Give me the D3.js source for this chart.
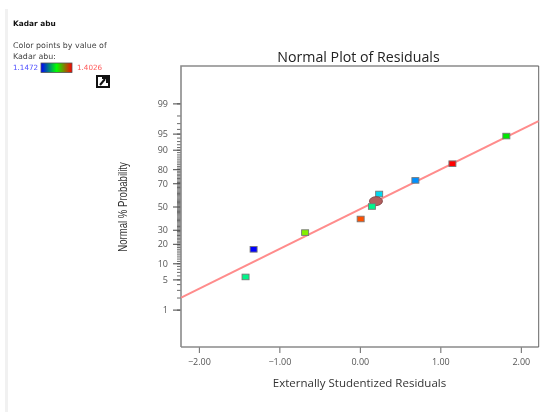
<!DOCTYPE html>
<html>
<head>
<meta charset="utf-8">
<script src="https://cdn.jsdelivr.net/npm/d3@7"></script>
<style>
  html, body { margin: 0; padding: 0; background: #fff; }
  svg { display: block; filter: blur(0.35px); }
  text { font-family: "Open Sans", sans-serif; }
  .axis path { display: none; }
  .axis text { font-size: 9px; fill: #555; font-family: "Open Sans", sans-serif; }
  .side text, text.side { font-family: "DejaVu Sans", sans-serif; font-size: 7.9px; fill: #444; }
</style>
</head>
<body>
<svg id="chart" width="550" height="412"></svg>
<script>
// residuals, normal % probability and Kadar abu of each run
const residuals = [-1.42, -1.32, -0.68, 0.01, 0.15, 0.24, 0.69, 1.15, 1.82];
const probabilities = [5.6, 16.7, 27.8, 38.9, 50, 61.1, 72.2, 83.3, 94.4];
const kadarAbu = [1.24, 1.1472, 1.305, 1.38, 1.24, 1.2, 1.19, 1.4026, 1.275];

const lineX = [-2.22, 2.22];
const lineP = [2, 97.3];
const selectedX = 0.2;
const selectedP = 54.8;

const xTicks = [-2, -1, 0, 1, 2];
const yLabelled = [1, 5, 10, 20, 30, 50, 70, 80, 90, 95, 99];
const yMinor = d3.range(1, 100);

const legendMin = 1.1472;
const legendMax = 1.4026;

// inverse normal cdf (Acklam)
function probit(pct) {
    const p = pct / 100;
    const a = [-39.69683028665376, 220.9460984245205, -275.9285104469687, 138.357751867269, -30.66479806614716, 2.506628277459239];
    const b = [-54.47609879822406, 161.5858368580409, -155.6989798598866, 66.80131188771972, -13.28068155288572];
    const c = [-0.007784894002430293, -0.3223964580411365, -2.400758277161838, -2.549732539343734, 4.374664141464968, 2.938163982698783];
    const d = [0.007784695709041462, 0.3224671290700398, 2.445134137142996, 3.754408661907416];
    if (p < 0.02425 || p > 0.97575) {
        const q = Math.sqrt(-2 * Math.log(p < 0.5 ? p : 1 - p));
        const v = (((((c[0]*q+c[1])*q+c[2])*q+c[3])*q+c[4])*q+c[5]) / ((((d[0]*q+d[1])*q+d[2])*q+d[3])*q+1);
        return p < 0.5 ? v : -v;
    }
    const q = p - 0.5, r = q * q;
    return (((((a[0]*r+a[1])*r+a[2])*r+a[3])*r+a[4])*r+a[5])*q / (((((b[0]*r+b[1])*r+b[2])*r+b[3])*r+b[4])*r+1);
}

const svg = d3.select("#chart");
const plot = {left: 181, right: 538.7, top: 66, bottom: 347};

const x = d3.scaleLinear().domain([-2.222, 2.222]).range([plot.left, plot.right]);
const yz = d3.scaleLinear().domain([-3.17, 3.17]).range([plot.bottom, plot.top]);
const y = p => yz(probit(p));

const color = d3.scaleLinear()
    .domain([1.1472, 1.19, 1.2, 1.24, 1.275, 1.305, 1.38, 1.4026])
    .range(["#0000ff", "#0090ff", "#00d8f0", "#00f58a", "#00e800", "#84f000", "#ff5000", "#ff0000"]);

// left page stripe
svg.append("rect").attr("x", 5).attr("y", 9).attr("width", 3).attr("height", 403).attr("fill", "#f1f1f1");

// side panel
svg.append("text").attr("class", "side").attr("x", 13).attr("y", 26)
    .style("font-size", "7.4px").style("font-weight", "700").style("fill", "#111").text("Kadar abu");
svg.append("text").attr("class", "side").attr("x", 13).attr("y", 48).text("Color points by value of");
svg.append("text").attr("class", "side").attr("x", 13).attr("y", 58.5).text("Kadar abu:");
svg.append("text").attr("class", "side").attr("x", 13).attr("y", 70)
    .style("font-size", "7.2px").style("fill", "#5050ff").text(legendMin);
svg.append("text").attr("class", "side").attr("x", 77).attr("y", 70)
    .style("font-size", "7.2px").style("fill", "#ff5a5a").text(legendMax);

const grad = svg.append("defs").append("linearGradient").attr("id", "legend-grad");
["#0000ff", "#007f80", "#00ff00", "#7f8000", "#ff0000"].forEach((c, i) => {
    grad.append("stop").attr("offset", i * 25 + "%").attr("stop-color", c);
});
svg.append("rect").attr("x", 41).attr("y", 63).attr("width", 31).attr("height", 9.5)
    .attr("fill", "url(#legend-grad)").attr("stroke", "#555").attr("stroke-width", 0.8);

// export icon
const icon = svg.append("g").attr("transform", "translate(96,75)");
icon.append("rect").attr("x", 1).attr("y", 1).attr("width", 12).attr("height", 11)
    .attr("fill", "#fff").attr("stroke", "#111").attr("stroke-width", 2);
icon.append("path").attr("d", "M4 10 L9 4 M6 3 H11 V8").attr("fill", "none").attr("stroke", "#111").attr("stroke-width", 2);

// axes
svg.append("g").attr("class", "axis")
    .attr("transform", "translate(0," + plot.bottom + ")")
    .call(d3.axisBottom(x).tickValues(xTicks).tickFormat(d3.format(".2f")).tickSize(6).tickPadding(6))
    .call(g => g.selectAll("line").attr("stroke", "#666"));

svg.append("g").attr("class", "axis")
    .attr("transform", "translate(" + plot.left + ",0)")
    .call(d3.axisLeft(yz).tickValues(yMinor.map(probit)).tickSize(4).tickFormat(""))
    .call(g => g.selectAll("line").attr("stroke", "#444").attr("stroke-width", 0.8));

svg.append("g").attr("class", "axis")
    .attr("transform", "translate(" + plot.left + ",0)")
    .call(d3.axisLeft(yz).tickValues(yLabelled.map(probit)).tickSize(8).tickPadding(5)
        .tickFormat((d, i) => yLabelled[i]))
    .call(g => g.selectAll("line").attr("stroke", "#444"));

// frame
svg.append("path")
    .attr("d", `M${plot.left} ${plot.bottom} V${plot.top} H${plot.right}`)
    .attr("fill", "none").attr("stroke", "#8a8a8a").attr("stroke-width", 1.6);
svg.append("line").attr("x1", plot.left).attr("x2", plot.right).attr("y1", plot.bottom).attr("y2", plot.bottom)
    .attr("stroke", "#8a8a8a").attr("stroke-width", 1.4);
svg.append("line").attr("x1", plot.right).attr("x2", plot.right).attr("y1", plot.top).attr("y2", plot.bottom)
    .attr("stroke", "#666").attr("stroke-width", 1);

// fit line
svg.append("path")
    .datum(d3.zip(lineX, lineP))
    .attr("d", d3.line().x(d => x(d[0])).y(d => y(d[1])))
    .attr("fill", "none").attr("stroke", "#ff8c8c").attr("stroke-width", 2);

// points
svg.selectAll("rect.pt").data(d3.zip(residuals, probabilities, kadarAbu)).join("rect")
    .attr("class", "pt")
    .attr("x", d => x(d[0]) - 3.5)
    .attr("y", d => y(d[1]) - 2.8)
    .attr("width", 7).attr("height", 5.6)
    .attr("fill", d => color(d[2]))
    .attr("stroke", "#777").attr("stroke-width", 0.9);

// selected point marker
svg.append("ellipse")
    .attr("cx", x(selectedX)).attr("cy", y(selectedP))
    .attr("rx", 6.5).attr("ry", 4.5)
    .attr("fill", "#b25e5e").attr("stroke", "#7a3d3d").attr("stroke-width", 0.8);
svg.selectAll("rect.pt").filter(d => d[1] === 50).raise();

// titles
svg.append("text").attr("x", 358.5).attr("y", 62).attr("text-anchor", "middle")
    .attr("font-size", 14.2).attr("fill", "#222").text("Normal Plot of Residuals");
svg.append("text").attr("x", 359.5).attr("y", 387).attr("text-anchor", "middle")
    .attr("font-size", 11.5).attr("fill", "#333").text("Externally Studentized Residuals");
svg.append("text").attr("transform", "translate(127,207) rotate(-90) scale(0.8,1)")
    .attr("text-anchor", "middle").style("font-family", "'Liberation Sans', sans-serif")
    .attr("font-size", 12).attr("fill", "#333").text("Normal % Probability");
</script>
</body>
</html>
